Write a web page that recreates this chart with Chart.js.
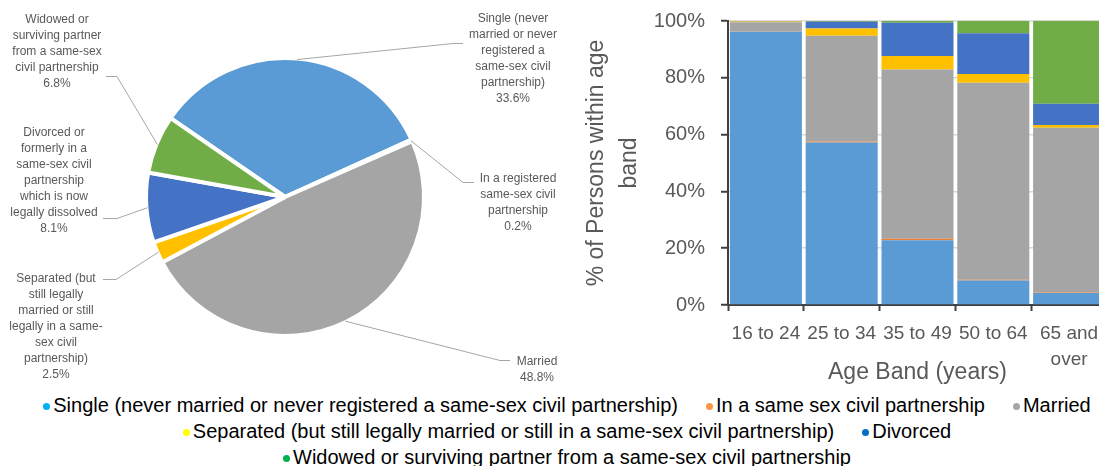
<!DOCTYPE html>
<html>
<head>
<meta charset="utf-8">
<script src="https://cdn.jsdelivr.net/npm/chart.js@4"></script>
<style>
  html, body { margin: 0; padding: 0; background: #fff; }
  body { width: 1099px; height: 466px; overflow: hidden; position: relative; font-family: "Liberation Sans", Arial, sans-serif; }
  #pieBox { position: absolute; left: 0; top: 0; width: 580px; height: 390px; }
  #barBox { position: absolute; left: 580px; top: 0; width: 527px; height: 390px; }
  #legend { position: absolute; left: 0; top: 392px; width: 1134px; font-size: 20px; color: #000; }
  .row { display: flex; justify-content: center; height: 26px; line-height: 26px; white-space: nowrap; }
  .item { margin: 0 14px; }
  .dot { display: inline-block; width: 7px; height: 7px; border-radius: 50%; margin-right: 3px; vertical-align: 2px; }
</style>
</head>
<body>
<div id="pieBox"><canvas id="pie" width="580" height="390"></canvas></div>
<div id="barBox"><canvas id="bar" width="527" height="390"></canvas></div>
<div id="legend"></div>
<script>
  "use strict";

  // Marital status categories (pie order, clockwise) and overall shares, %
  const statusNames = [
    "Single (never married or never registered a same-sex civil partnership)",
    "In a same sex civil partnership",
    "Married",
    "Separated (but still legally married or still in a same-sex civil partnership)",
    "Divorced",
    "Widowed or surviving partner from a same-sex civil partnership",
  ];
  const pieValues = [33.6, 0.2, 48.8, 2.5, 8.1, 6.8];

  // Pie data-label wording
  const pieLabelText = [
    ["Single (never", "married or never", "registered a", "same-sex civil", "partnership)"],
    ["In a registered", "same-sex civil", "partnership"],
    ["Married"],
    ["Separated (but", "still legally", "married or still", "legally in a same-", "sex civil", "partnership)"],
    ["Divorced or", "formerly in a", "same-sex civil", "partnership", "which is now", "legally dissolved"],
    ["Widowed or", "surviving partner", "from a same-sex", "civil partnership"],
  ];

  // Age bands and share of each status within the band, %
  const ageBands = ["16 to 24", "25 to 34", "35 to 49", "50 to 64", ["65 and", "over"]];
  const singleByAge = [96.2, 57.2, 22.8, 8.6, 4.2];
  const civilPartnershipByAge = [0.1, 0.4, 0.5, 0.3, 0.2];
  const marriedByAge = [3.3, 37.2, 59.6, 69.4, 58.0];
  const separatedByAge = [0.2, 2.6, 4.8, 3.0, 1.0];
  const divorcedByAge = [0.1, 2.3, 11.7, 14.4, 7.5];
  const widowedByAge = [0.1, 0.3, 0.6, 4.3, 29.1];

  const yTicks = [0, 20, 40, 60, 80, 100];

  const sliceColors = ["#5b9bd5", "#ed7d31", "#a5a5a5", "#ffc000", "#4472c4", "#70ad47"];
  const legendDotColors = ["#00b0f0", "#f79646", "#a6a6a6", "#ffff00", "#0070c0", "#00b050"];
  const legendRows = [[0, 1, 2], [3, 4], [5]];

  const FONT = '"Liberation Sans", Arial, sans-serif';
  const TEXT = "#595959";

  // where each pie label sits: text centre x, first line y, leader start and elbow
  const pieLabelLayout = [
    { cx: 513, y0: 19, ax: 463, bx: 453, ay: 43 },
    { cx: 518, y0: 179, ax: 474, bx: 463, ay: 182 },
    { cx: 537, y0: 362, ax: 510, bx: 500, ay: 360 },
    { cx: 56, y0: 279, ax: 103, bx: 116, ay: 279 },
    { cx: 54, y0: 133, ax: 103, bx: 117, ay: 218 },
    { cx: 57, y0: 20, ax: 106, bx: 117, ay: 76 },
  ];

  const pieLabels = {
    id: "pieLabels",
    afterDatasetsDraw(chart) {
      const ctx = chart.ctx;
      const meta = chart.getDatasetMeta(0);
      ctx.save();
      ctx.font = "12px " + FONT;
      ctx.textAlign = "center";
      ctx.textBaseline = "middle";
      meta.data.forEach((arc, i) => {
        const p = arc.getProps(["x", "y", "startAngle", "endAngle", "outerRadius"], true);
        const mid = (p.startAngle + p.endAngle) / 2;
        const r = p.outerRadius - 1;
        const lay = pieLabelLayout[i];
        ctx.strokeStyle = "#a6a6a6";
        ctx.lineWidth = 1;
        ctx.beginPath();
        ctx.moveTo(lay.ax, lay.ay + 0.5);
        ctx.lineTo(lay.bx, lay.ay + 0.5);
        ctx.lineTo(p.x + Math.cos(mid) * r, p.y + Math.sin(mid) * r);
        ctx.stroke();
        ctx.fillStyle = TEXT;
        const lines = pieLabelText[i].concat(pieValues[i].toFixed(1) + "%");
        lines.forEach((t, k) => ctx.fillText(t, lay.cx, lay.y0 + k * 16));
      });
      ctx.restore();
    },
  };

  new Chart(document.getElementById("pie"), {
    type: "pie",
    data: {
      labels: statusNames,
      datasets: [{
        data: pieValues,
        backgroundColor: sliceColors,
        borderColor: "#ffffff",
        borderWidth: 4,
        hoverOffset: 0,
      }],
    },
    options: {
      responsive: false,
      animation: false,
      rotation: -55.4,
      radius: 139,
      layout: { padding: { left: 146, right: 156, top: 58, bottom: 54 } },
      plugins: { legend: { display: false }, tooltip: { enabled: false } },
    },
    plugins: [pieLabels],
  });

  const barSeries = [singleByAge, civilPartnershipByAge, marriedByAge, separatedByAge, divorcedByAge, widowedByAge];

  new Chart(document.getElementById("bar"), {
    type: "bar",
    data: {
      labels: ageBands,
      datasets: barSeries.map((vals, i) => ({
        label: statusNames[i],
        data: vals,
        backgroundColor: sliceColors[i],
        borderWidth: 0,
        barPercentage: 0.95,
        categoryPercentage: 1,
      })),
    },
    options: {
      responsive: false,
      animation: false,
      layout: { padding: { top: 21, left: 0, right: 0, bottom: 0 } },
      plugins: { legend: { display: false }, tooltip: { enabled: false } },
      scales: {
        x: {
          stacked: true,
          afterFit(scale) {
            scale.height = 85;
            scale.paddingLeft = 0;
            scale.paddingRight = 0;
          },
          border: { color: "#404040", width: 2 },
          grid: { drawOnChartArea: false, tickLength: 6, tickColor: "#404040", tickWidth: 2 },
          ticks: { color: TEXT, font: { family: FONT, size: 19, lineHeight: 1.35 }, padding: 10, maxRotation: 0 },
          title: {
            display: true,
            text: "Age Band (years)",
            color: TEXT,
            font: { family: FONT, size: 23, lineHeight: 1.2 },
            padding: { top: 0, bottom: 4 },
          },
        },
        y: {
          stacked: true,
          min: 0,
          max: 100,
          afterFit(scale) {
            scale.width = 148;
            scale.paddingTop = 0;
            scale.paddingBottom = 0;
          },
          afterBuildTicks(scale) { scale.ticks = yTicks.map((v) => ({ value: v })); },
          border: { color: "#404040", width: 2 },
          grid: { color: "#d9d9d9", lineWidth: 1.5, tickLength: 7, tickColor: "#404040", tickWidth: 2 },
          ticks: {
            color: TEXT,
            font: { family: FONT, size: 20 },
            padding: 16,
            callback(v) { return v + "%"; },
          },
          title: {
            display: true,
            text: ["% of Persons within age", "band"],
            color: TEXT,
            font: { family: FONT, size: 23, lineHeight: 1.43 },
            padding: { top: 0, bottom: 0 },
          },
        },
      },
    },
  });

  // shared legend under both charts
  const legendEl = document.getElementById("legend");
  legendRows.forEach((row) => {
    const rowEl = document.createElement("div");
    rowEl.className = "row";
    row.forEach((i) => {
      const item = document.createElement("span");
      item.className = "item";
      const dot = document.createElement("span");
      dot.className = "dot";
      dot.style.background = legendDotColors[i];
      item.appendChild(dot);
      item.appendChild(document.createTextNode(statusNames[i]));
      rowEl.appendChild(item);
    });
    legendEl.appendChild(rowEl);
  });
</script>
</body>
</html>
